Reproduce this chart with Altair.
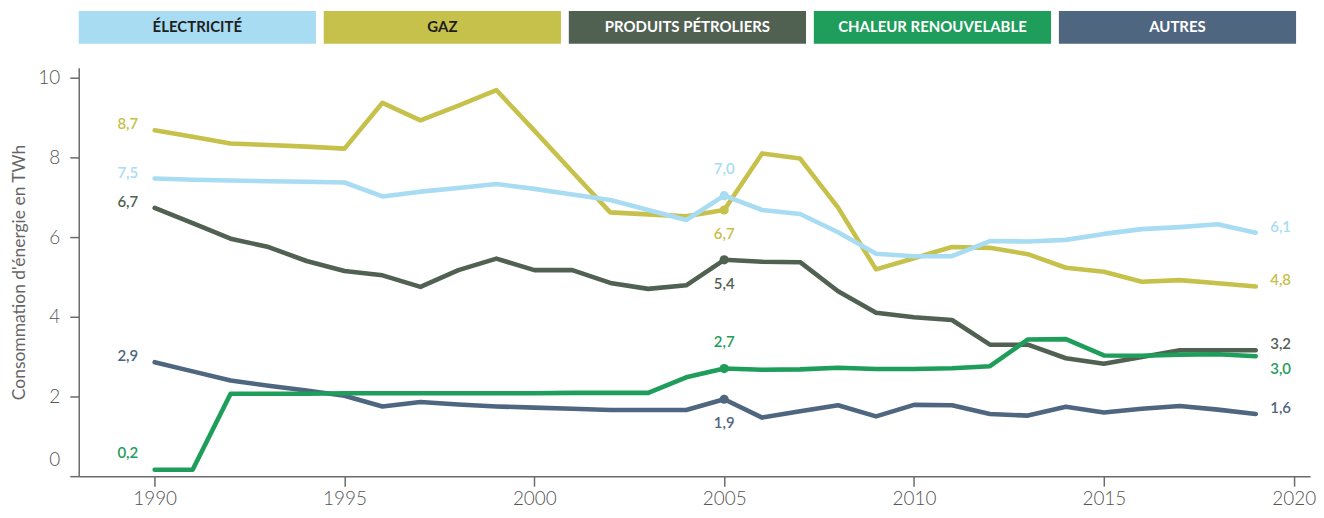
import altair as alt
import pandas as pd

years = list(range(1990, 2020))

electricite = [7.47, 7.44, 7.42, 7.40, 7.39, 7.37, 7.02, 7.14, 7.23, 7.33,
               7.21, 7.07, 6.93, 6.68, 6.43, 7.04, 6.68, 6.58, 6.12, 5.58,
               5.52, 5.52, 5.90, 5.89, 5.93, 6.08, 6.20, 6.25, 6.32, 6.11]
gaz = [8.68, 8.52, 8.35, 8.31, 8.27, 8.22, 9.37, 8.93, 9.30, 9.69,
       8.67, 7.64, 6.62, 6.57, 6.52, 6.68, 8.10, 7.97, 6.74, 5.19,
       5.47, 5.75, 5.73, 5.57, 5.23, 5.13, 4.88, 4.92, 4.84, 4.76]
petrole = [6.73, 6.35, 5.96, 5.75, 5.40, 5.15, 5.04, 4.75, 5.17, 5.46,
           5.17, 5.17, 4.85, 4.70, 4.79, 5.43, 5.38, 5.37, 4.64, 4.10,
           3.99, 3.92, 3.30, 3.30, 2.96, 2.82, 2.99, 3.16, 3.16, 3.16]
chaleur = [0.16, 0.16, 2.07, 2.07, 2.07, 2.08, 2.08, 2.08, 2.08, 2.08,
           2.08, 2.09, 2.09, 2.09, 2.48, 2.70, 2.67, 2.68, 2.72, 2.69,
           2.69, 2.71, 2.76, 3.43, 3.44, 3.03, 3.02, 3.05, 3.06, 3.01]
autres = [2.86, 2.63, 2.40, 2.27, 2.15, 2.02, 1.75, 1.86, 1.80, 1.75,
          1.72, 1.69, 1.66, 1.66, 1.66, 1.93, 1.47, 1.63, 1.78, 1.50,
          1.79, 1.78, 1.56, 1.52, 1.74, 1.60, 1.69, 1.76, 1.67, 1.56]

series_names = ["Électricité", "Gaz", "Produits pétroliers", "Chaleur renouvelable", "Autres"]
legend_labels = ["ÉLECTRICITÉ", "GAZ", "PRODUITS PÉTROLIERS", "CHALEUR RENOUVELABLE", "AUTRES"]
colors = ["#A8DCF3", "#C6C14B", "#506152", "#1F9D5A", "#4F6680"]
legend_text_colors = ["#1e1e1e", "#1e1e1e", "#ffffff", "#ffffff", "#ffffff"]
draw_order = ["Autres", "Produits pétroliers", "Gaz", "Électricité", "Chaleur renouvelable"]

x_ticks = [1990, 1995, 2000, 2005, 2010, 2015, 2020]
y_ticks = [0, 2, 4, 6, 8, 10]

rows = []
for name, vals in zip(series_names, [electricite, gaz, petrole, chaleur, autres]):
    for yr, v in zip(years, vals):
        rows.append({"serie": name, "annee": yr, "valeur": v})
df = pd.DataFrame(rows)

FONT = "Lato"
color_scale = alt.Scale(domain=series_names, range=colors)
col = alt.Color("serie:N", scale=color_scale, legend=None)

x = alt.X("annee:Q",
          scale=alt.Scale(domain=[1988, 2020.43], nice=False, zero=False),
          axis=alt.Axis(values=x_ticks, format="d", title=None, grid=False,
                        tickSize=10, labelPadding=3, labelFontSize=19))
y = alt.Y("valeur:Q",
          scale=alt.Scale(domain=[0, 10.25], nice=False),
          axis=alt.Axis(values=y_ticks, title="Consommation d'énergie en TWh",
                        grid=False, tickSize=9, labelPadding=10, labelFontSize=19,
                        titleFontSize=17.5, titleColor="#666666", titleFontWeight="normal",
                        titlePadding=9, titleFont=FONT,
                        labelOffset={"condition": {"test": "datum.value === 0", "value": -17}, "value": 0}))

base = alt.Chart(df)

layers = []
for name in draw_order:
    layers.append(
        base.transform_filter(alt.datum.serie == name)
        .mark_line(strokeWidth=4.6, strokeJoin="round", strokeCap="round")
        .encode(x=x, y=y, color=col)
    )

points = base.transform_filter(alt.datum.annee == 2005).mark_circle(size=85, opacity=1).encode(x=x, y=y, color=col)
layers.append(points)

lbl_expr = "replace(format(datum.valeur, '.1f'), '.', ',')"


def labels(filt, dx, dy):
    return (base.transform_filter(filt)
            .transform_calculate(lbl=lbl_expr)
            .mark_text(dx=dx, dy=dy, fontSize=15, fontWeight=600, font=FONT, baseline="middle")
            .encode(x=x, y=y, text="lbl:N", color=col))


layers.append(labels("datum.annee == 1990 && datum.serie != 'Chaleur renouvelable'", -27, -6))
layers.append(labels("datum.annee == 1990 && datum.serie == 'Chaleur renouvelable'", -27, -17))
layers.append(labels("datum.annee == 2005 && (datum.serie == 'Électricité' || datum.serie == 'Chaleur renouvelable')", 0, -27))
layers.append(labels("datum.annee == 2005 && datum.serie != 'Électricité' && datum.serie != 'Chaleur renouvelable'", 0, 24))
layers.append(labels("datum.annee == 2019 && datum.serie != 'Chaleur renouvelable'", 25, -6))
layers.append(labels("datum.annee == 2019 && datum.serie == 'Chaleur renouvelable'", 25, 13))

main = alt.layer(*layers).properties(width=1236, height=410)

leg_df = pd.DataFrame({"serie": series_names, "libelle": legend_labels, "txtcol": legend_text_colors})
legend_x = alt.X("libelle:N", sort=legend_labels,
                 scale=alt.Scale(paddingInner=0.032, paddingOuter=0), axis=None)
leg_rect = alt.Chart(leg_df).mark_rect().encode(x=legend_x, color=col)
leg_text = alt.Chart(leg_df).mark_text(fontSize=15, fontWeight="bold", font=FONT, baseline="middle").encode(
    x=legend_x, text="libelle:N", color=alt.Color("txtcol:N", scale=None, legend=None))
legend = alt.layer(leg_rect, leg_text).properties(width=1222, height=33)

chart = (alt.vconcat(legend, main, spacing=24)
         .properties(padding={"left": 2, "top": 2, "right": 0, "bottom": 0})
         .configure_view(stroke=None)
         .configure_axis(domainColor="#6b6b6b", domainWidth=1.5, tickColor="#6b6b6b", tickWidth=1.5,
                         labelColor="#555555", labelFont=FONT, labelFontWeight=300))

chart.save("out.html", embed_options={"renderer": "svg", "actions": False})
